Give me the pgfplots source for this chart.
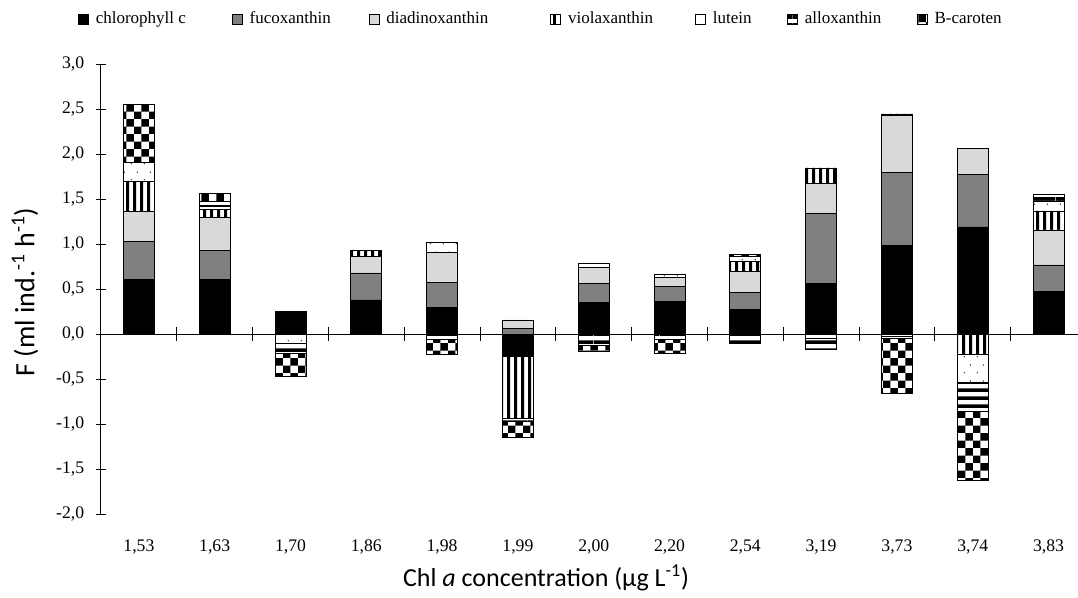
\documentclass[border=0pt]{standalone}
\usepackage{pgfplots}
\pgfplotsset{compat=1.18}
\usepackage{pgfplotstable}
\usepackage{fontspec}
\setmainfont{Liberation Serif}
\newfontfamily\calibri{Carlito}
\usetikzlibrary{patterns}

\definecolor{fucgray}{HTML}{808080}
\definecolor{diagray}{HTML}{D9D9D9}

\pgfdeclarepatternformonly{vstripes}{\pgfpointorigin}{\pgfpoint{5.6pt}{44.8pt}}{\pgfpoint{5.6pt}{44.8pt}}{%
  \pgfpathrectangle{\pgfpointorigin}{\pgfpoint{2.5pt}{44.8pt}}\pgfusepath{fill}}
\pgfdeclarepatternformonly{hstripes}{\pgfpointorigin}{\pgfpoint{49.6pt}{6.2pt}}{\pgfpoint{49.6pt}{6.2pt}}{%
  \pgfpathrectangle{\pgfpointorigin}{\pgfpoint{49.6pt}{3pt}}\pgfusepath{fill}}
\pgfdeclarepatternformonly{bigchecker}{\pgfpointorigin}{\pgfpoint{11.2pt}{11.2pt}}{\pgfpoint{11.2pt}{11.2pt}}{%
  \pgfpathrectangle{\pgfpointorigin}{\pgfpoint{5.6pt}{5.6pt}}%
  \pgfpathrectangle{\pgfpoint{5.6pt}{5.6pt}}{\pgfpoint{5.6pt}{5.6pt}}\pgfusepath{fill}}
\pgfdeclarepatternformonly{sparsedots}{\pgfpointorigin}{\pgfpoint{9.8pt}{12pt}}{\pgfpoint{9.8pt}{12pt}}{%
  \pgfpathcircle{\pgfpoint{1pt}{1pt}}{0.55pt}\pgfpathcircle{\pgfpoint{5.9pt}{7pt}}{0.55pt}\pgfusepath{fill}}

\newcommand\legfont{\fontsize{12.75pt}{15pt}\selectfont}
\newcommand\tickfont{\fontsize{13.25pt}{15pt}\selectfont}
\newcommand\labfont{\calibri\fontsize{19.5pt}{23pt}\selectfont}
\newcommand\ylabfont{\calibri\fontsize{21pt}{24pt}\selectfont}

\pgfplotstableread{
x chl fuc dia vio lut all bca
0 0.61 0.42 0.33 0.34 0.21 0 0.637
1 0.61 0.323 0.364 0.088 0.03 0.055 0.093
2 0.25 0 0 0 0 0 0
3 0.378 0.30 0.187 0.066 0 0 0
4 0.296 0.278 0.333 0 0.112 0 0
5 0 0.063 0.093 0 0 0 0
6 0.352 0.211 0.174 0 0.048 0 0
7 0.36 0.166 0.107 0 0.034 0 0
8 0.27 0.19 0.24 0.11 0.05 0 0.025
9 0.565 0.775 0.33 0.175 0 0 0
10 0.98 0.82 0.63 0.015 0 0 0
11 1.19 0.58 0.29 0 0 0 0
12 0.47 0.297 0.389 0.211 0.111 0.072 0
}\postab

\pgfplotstableread{
x chl fuc dia vio lut all bca
0 0 0 0 0 0 0 0
1 0 0 0 0 0 0 0
2 0 0 0 0 -0.10 -0.11 -0.26
3 0 0 0 0 0 0 0
4 0 0 0 0 0 -0.06 -0.17
5 -0.244 0 0 -0.693 0 -0.037 -0.17
6 0 0 0 0 0 -0.13 -0.06
7 0 0 0 0 0 -0.06 -0.15
8 0 0 0 0 0 -0.10 0
9 0 0 0 0 -0.05 -0.12 0
10 0 0 0 0 -0.025 -0.025 -0.61
11 0 0 0 -0.222 -0.32 -0.32 -0.77
12 0 0 0 0 0 0 0
}\negtab

\pgfplotsset{
  common/.style={
    scale only axis, width=732.75pt, height=337.5pt,
    xmin=-0.5, xmax=12.389, ymin=-2, ymax=3,
  },
  s chl/.style={fill=black, draw=black, line width=0.6pt},
  s fuc/.style={fill=fucgray, draw=black, line width=0.6pt},
  s dia/.style={fill=diagray, draw=black, line width=0.6pt},
  s vio/.style={preaction={fill=white}, pattern=vstripes, draw=black, line width=0.6pt},
  s lut/.style={preaction={fill=white}, pattern=sparsedots, draw=black, line width=0.6pt},
  s all/.style={preaction={fill=white}, pattern=hstripes, draw=black, line width=0.6pt},
  s bca/.style={preaction={fill=white}, pattern=bigchecker, draw=black, line width=0.6pt},
}

\begin{document}
\begin{tikzpicture}
\begin{axis}[common, ybar stacked, bar width=23.25pt,
  axis x line=bottom, axis y line=left,
  x axis line style={draw=none},
  y axis line style={-, line width=0.75pt},
  xtick={0,...,12},
  xticklabels={{1,53},{1,63},{1,70},{1,86},{1,98},{1,99},{2,00},{2,20},{2,54},{3,19},{3,73},{3,74},{3,83}},
  xtick style={draw=none},
  ytick={-2,-1.5,-1,-0.5,0,0.5,1,1.5,2,2.5,3},
  yticklabels={{-2,0},{-1,5},{-1,0},{-0,5},{0,0},{0,5},{1,0},{1,5},{2,0},{2,5},{3,0}},
  ytick style={line width=0.75pt, black},
  tick align=center, major tick length=8.25pt,
  ticklabel style={font=\tickfont},
  xticklabel style={yshift=-12pt},
  yticklabel style={xshift=-5pt},
  every axis x label/.style={at={(axis description cs:0.4555,-0.1422)}, anchor=center, font=\labfont},
  every axis y label/.style={at={(axis description cs:-0.0778,0.4933)}, anchor=center, rotate=90, font=\ylabfont},
  xlabel={Chl \textit{a} concentration (µg L\textsuperscript{-1})},
  ylabel={F (ml ind.\textsuperscript{-1} h\textsuperscript{-1})},
  legend image code/.code={\draw[#1] (0pt,-3.75pt) rectangle (7.5pt,3.75pt);},
  legend style={at={(axis description cs:-0.02354,1.1)}, anchor=west, draw=none, fill=none,
    inner sep=0pt, outer sep=0pt, legend columns=7, font=\legfont,
    nodes={inner sep=0pt},
    /tikz/every odd column/.append style={column sep=5.25pt},
    /tikz/every even column/.append style={column sep=0pt}},
  legend cell align=left,
]
\addplot[s chl] table[x=x, y=chl] {\postab};
\addplot[s fuc] table[x=x, y=fuc] {\postab};
\addplot[s dia] table[x=x, y=dia] {\postab};
\addplot[s vio] table[x=x, y=vio] {\postab};
\addplot[s lut] table[x=x, y=lut] {\postab};
\addplot[s all] table[x=x, y=all] {\postab};
\addplot[s bca] table[x=x, y=bca] {\postab};
\legend{\makebox[102pt][l]{chlorophyll c},\makebox[89.25pt][l]{fucoxanthin},\makebox[123pt][l]{diadinoxanthin},\makebox[95.25pt][l]{violaxanthin},\makebox[55.5pt][l]{lutein},\makebox[84pt][l]{alloxanthin},B-caroten}
\end{axis}
\begin{axis}[common, ybar stacked, bar width=23.25pt, hide axis]
\addplot[s chl] table[x=x, y=chl] {\negtab};
\addplot[s fuc] table[x=x, y=fuc] {\negtab};
\addplot[s dia] table[x=x, y=dia] {\negtab};
\addplot[s vio] table[x=x, y=vio] {\negtab};
\addplot[s lut] table[x=x, y=lut] {\negtab};
\addplot[s all] table[x=x, y=all] {\negtab};
\addplot[s bca] table[x=x, y=bca] {\negtab};
\end{axis}
\begin{axis}[common,
  axis lines=middle,
  y axis line style={draw=none},
  x axis line style={-, line width=0.75pt},
  xtick={0.5,1.5,...,11.5}, ytick=\empty,
  xticklabel style={opacity=0},
  xtick style={draw=black, line width=0.75pt},
  tick align=center, major tick length=10pt,
]
\end{axis}
\pgfresetboundingbox
\useasboundingbox (-75.75pt,-62.25pt) rectangle (732.75pt,385.5pt);
\end{tikzpicture}
\end{document}
